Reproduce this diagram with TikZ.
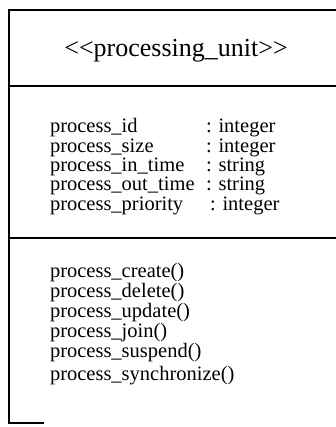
\documentclass[tikz,border=0pt]{standalone}
\usepackage{fontspec}
\setmainfont{Liberation Serif}
\usepackage{tikz}
\usetikzlibrary{positioning}

\begin{document}
\begin{tikzpicture}[
  x=1pt, y=-1pt,
  every node/.style={inner sep=0pt, outer sep=0pt},
  title/.style={font=\fontsize{26}{28}\selectfont, anchor=base},
  attrs/.style={font=\fontsize{20.5}{19.2}\selectfont, anchor=base west},
  ops/.style={font=\fontsize{20.5}{19.3}\selectfont, anchor=base west},
  frame/.style={line width=1.4pt}
]
\useasboundingbox (0,0) rectangle (335,427);

% corners of the class box (right side runs off the page)
\coordinate (tl)  at (9,10);
\coordinate (tr)  at (336,10);
\coordinate (bl)  at (9,423);
\coordinate (bs)  at (44,423);
\coordinate (d1l) at (9,86);
\coordinate (d1r) at (336,86);
\coordinate (d2l) at (9,238);
\coordinate (d2r) at (336,238);

\draw[frame] (tr) -- (tl) -- (bl) -- (bs);
\draw[frame] (d1l) -- (d1r);
\draw[frame] (d2l) -- (d2r);

\node[title] (name) at (176,57) {<{}<processing\_unit>{}>};

\node[attrs] (attr) at (50,133) {%
  \begin{tabular}[t]{@{}p{156pt}@{}l@{}}
  process\_id        & : integer\\
  process\_size      & : integer\\
  process\_in\_time  & : string\\
  process\_out\_time & : string\\
  process\_priority  & \hspace{4pt}: integer
  \end{tabular}};

\node[ops] (oper) at (50,277) {%
  \begin{tabular}[t]{@{}l@{}}
  process\_create()\\
  process\_delete()\\
  process\_update()\\
  process\_join()\\
  process\_suspend()\\[3pt]
  process\_synchronize()
  \end{tabular}};
\end{tikzpicture}
\end{document}
